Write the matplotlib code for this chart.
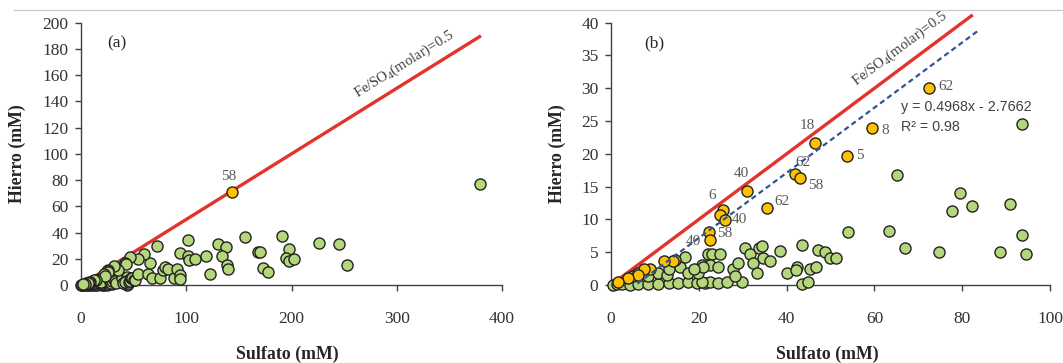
import numpy as np
import matplotlib
matplotlib.use("Agg")
import matplotlib.pyplot as plt
from matplotlib.lines import Line2D

plt.rcParams["font.family"] = ["Liberation Serif", "DejaVu Serif"]
plt.rcParams["mathtext.fontset"] = "custom"
plt.rcParams["mathtext.rm"] = "Liberation Serif"
plt.rcParams["mathtext.it"] = "Liberation Serif:italic"

# --- data (mM) ---------------------------------------------------------
# samples below the Fe/SO4 = 0.5 ratio (green in both panels)
sulfato_verde = [0.4, 1.3, 2.4, 4.3, 6.2, 8.5, 10.8, 13.1, 15.3, 17.5, 19.5, 21.4,
                 22.6, 24.4, 20.7, 26.4, 29.8, 43.4, 44.9,
                 4.9, 6.2, 8.5, 10.8, 12.7, 13.1, 15.7, 16.8, 14.6, 17.6, 19.9,
                 20.7, 22.2, 23.0, 24.8, 22.6, 21.0, 24.4, 18.8, 27.9, 28.2, 29.0,
                 30.5, 31.7, 33.6, 34.3, 34.7, 36.2, 32.4, 33.2, 38.5, 40.0, 43.4,
                 42.3, 42.1, 45.3, 46.6, 47.2, 48.7, 49.9, 51.3,
                 54.1, 63.4, 65.2, 67.0, 74.8, 77.6, 79.5, 82.2, 88.5, 90.9, 93.6,
                 93.6, 94.5]
hierro_verde = [0.0, 0.2, 0.2, 0.0, 0.1, 0.2, 0.1, 0.3, 0.3, 0.4, 0.3, 0.3,
                0.4, 0.3, 0.5, 0.5, 0.5, 0.2, 0.5,
                1.4, 1.8, 1.3, 1.8, 1.5, 2.5, 2.8, 4.3, 3.8, 1.8, 1.8,
                3.0, 4.8, 4.8, 4.8, 3.0, 2.8, 2.8, 2.5, 2.4, 1.3, 3.3,
                5.6, 4.8, 5.6, 5.9, 4.1, 3.6, 3.3, 1.8, 5.2, 1.9, 6.1,
                2.8, 2.3, 2.5, 2.7, 5.3, 5.1, 4.1, 4.1,
                8.1, 8.3, 16.8, 5.7, 5.1, 11.3, 14.1, 12.1, 5.1, 12.4, 7.7,
                24.5, 4.8]

# samples close to the Fe/SO4 = 0.5 ratio (highlighted in panel b)
sulfato_cerca = [72.5, 59.5, 53.7, 46.5, 41.9, 43.1, 35.5, 30.9, 25.6, 24.8, 26.0,
                 22.3, 22.6, 14.2, 12.1, 8.9, 7.6, 6.2, 3.9, 1.7]
hierro_cerca = [30.0, 23.9, 19.7, 21.7, 16.9, 16.3, 11.7, 14.4, 11.4, 10.7, 9.9,
                8.1, 6.8, 3.7, 3.6, 2.4, 2.4, 1.5, 1.0, 0.5]
etiquetas_cerca = ["62", "8", "5", "18", "62", "58", "62", "40", "6", "", "40",
                   "58", "40", "", "", "", "", "", "", ""]

# samples with sulfate above 100 mM (panel a only)
sulfato_alto = [102.0, 101.5, 102.5, 108.0, 119.0, 122.7, 130.0, 138.0, 133.8,
                138.8, 140.0, 156.0, 168.6, 170.0, 173.0, 177.5, 191.0, 197.8,
                195.0, 197.5, 202.0, 226.0, 245.6, 252.6, 378.8]
hierro_alto = [34.6, 22.0, 19.0, 20.0, 22.0, 8.1, 31.3, 29.2, 22.0,
               15.0, 12.5, 36.3, 25.2, 25.0, 12.7, 10.2, 37.6, 27.4,
               20.8, 18.3, 20.0, 32.0, 31.3, 15.2, 76.7]

# highlighted sample in panel a
sulfato_58 = [143.9]
hierro_58 = [70.6]
etiqueta_58 = "58"

# reference ratio and linear fit of the highlighted samples
razon_molar = 0.5
pendiente, intercepto, r2 = 0.4968, -2.7662, 0.98

# --- style --------------------------------------------------------------
VERDE = "#b5d77b"
NARANJA = "#ffc000"
BORDE = "#222222"
ROJO = "#e2342c"
AZUL = "#2f5597"
EJE = "#404040"
ETQ = "#595959"

fig = plt.figure(figsize=(10.63, 3.63), dpi=100)
fig.add_artist(Line2D([14 / 1063, 1.0], [1 - 9.5 / 363] * 2, color="#c9c9c9",
                      lw=0.9, transform=fig.transFigure))

ax_a = fig.add_axes([81 / 1063, 1 - 285 / 363, 421 / 1063, 262.3 / 363])
ax_b = fig.add_axes([611 / 1063, 1 - 285 / 363, 439 / 1063, 262.3 / 363])


def estilo(ax, xmax, ymax, xstep, ystep, ylab_x, xlab_x):
    ax.set_xlim(0, xmax)
    ax.set_ylim(0, ymax)
    ax.set_xticks(np.arange(0, xmax + 1, xstep))
    ax.set_yticks(np.arange(0, ymax + 0.1, ystep))
    for s in ("top", "right"):
        ax.spines[s].set_visible(False)
    for s in ("left", "bottom"):
        ax.spines[s].set_color(EJE)
        ax.spines[s].set_linewidth(1.0)
    ax.tick_params(axis="both", direction="out", length=4, width=1.0,
                   color=EJE, labelcolor="#333333", labelsize=12.5)
    ax.tick_params(axis="x", pad=15)
    ax.tick_params(axis="y", pad=5)
    ax.set_xlabel("Sulfato (mM)", fontsize=12.8, fontweight="bold", color="#262626")
    ax.set_ylabel("Hierro (mM)", fontsize=12.8, fontweight="bold", color="#262626")
    ax.xaxis.set_label_coords(xlab_x, -0.232)
    ax.yaxis.set_label_coords(ylab_x, 0.5)


def puntos(ax, x, y, color, z=3):
    ax.scatter(x, y, s=64, c=color, edgecolors=BORDE, linewidths=1.0,
               zorder=z, clip_on=False)


angulo = np.degrees(np.arctan(razon_molar))
texto_razon = r"Fe/SO$_{\mathrm{4}}$(molar)=0.5"

# --- panel (a) ------------------------------------------------------------
estilo(ax_a, 400, 200, 100, 20, -0.131, 0.489)
xr = np.array([0, 380])
ax_a.plot(xr, razon_molar * xr, color=ROJO, lw=2.4, zorder=2,
          solid_capstyle="butt")
puntos(ax_a, sulfato_verde + sulfato_cerca + sulfato_alto,
       hierro_verde + hierro_cerca + hierro_alto, VERDE)
puntos(ax_a, sulfato_58, hierro_58, NARANJA, z=4)
ax_a.annotate(etiqueta_58, (sulfato_58[0], hierro_58[0]), xytext=(-4, 16),
              textcoords="offset pixels", ha="center", va="center",
              fontsize=11, color=ETQ)
ax_a.text(307, 168.5, texto_razon, fontsize=10.5, color="#404040",
          rotation=angulo, transform_rotates_text=True,
          rotation_mode="anchor", ha="center", va="center")
ax_a.text(0.062, 0.92, "(a)", transform=ax_a.transAxes, fontsize=12.5,
          color="#262626", ha="left", va="center")

# --- panel (b) ------------------------------------------------------------
estilo(ax_b, 100, 40, 20, 5, -0.103, 0.492)
xr = np.array([0, 82.4])
ax_b.plot(xr, razon_molar * xr, color=ROJO, lw=2.4, zorder=2, clip_on=False,
          solid_capstyle="butt")
puntos(ax_b, sulfato_verde, hierro_verde, VERDE)
puntos(ax_b, sulfato_cerca, hierro_cerca, NARANJA, z=4)
xt = np.array([6.0, 83.5])
ax_b.plot(xt, pendiente * xt + intercepto, color=AZUL, lw=1.6,
          linestyle=(0, (2.4, 1.6)), zorder=5, clip_on=False)

desplaz = [(17, 2), (13, -2), (13, 0), (-8, 17), (8, 12), (15, -7), (15, 7),
           (-5, 17), (-11, 15), (0, 0), (14, 1), (16, -2), (-17, -1),
           (0, 0), (0, 0), (0, 0), (0, 0), (0, 0), (0, 0), (0, 0)]
for xv, yv, et, off in zip(sulfato_cerca, hierro_cerca, etiquetas_cerca, desplaz):
    if et:
        ax_b.annotate(et, (xv, yv), xytext=off, textcoords="offset pixels",
                      ha="center", va="center", fontsize=11, color=ETQ, zorder=6)

ax_b.text(65.8, 36.1, texto_razon, fontsize=10.5, color="#404040",
          rotation=angulo, transform_rotates_text=True,
          rotation_mode="anchor", ha="center", va="center")
ax_b.text(66.0, 27.2, f"y = {pendiente:.4f}x - {abs(intercepto):.4f}",
          fontsize=10.3, family="Liberation Sans", color="#404040",
          ha="left", va="center")
ax_b.text(66.0, 24.1, f"R² = {r2:.2f}", fontsize=10.3, family="Liberation Sans",
          color="#404040", ha="left", va="center")
ax_b.text(0.075, 0.92, "(b)", transform=ax_b.transAxes, fontsize=12.5,
          color="#262626", ha="left", va="center")

fig.savefig("out.png", dpi=100)
